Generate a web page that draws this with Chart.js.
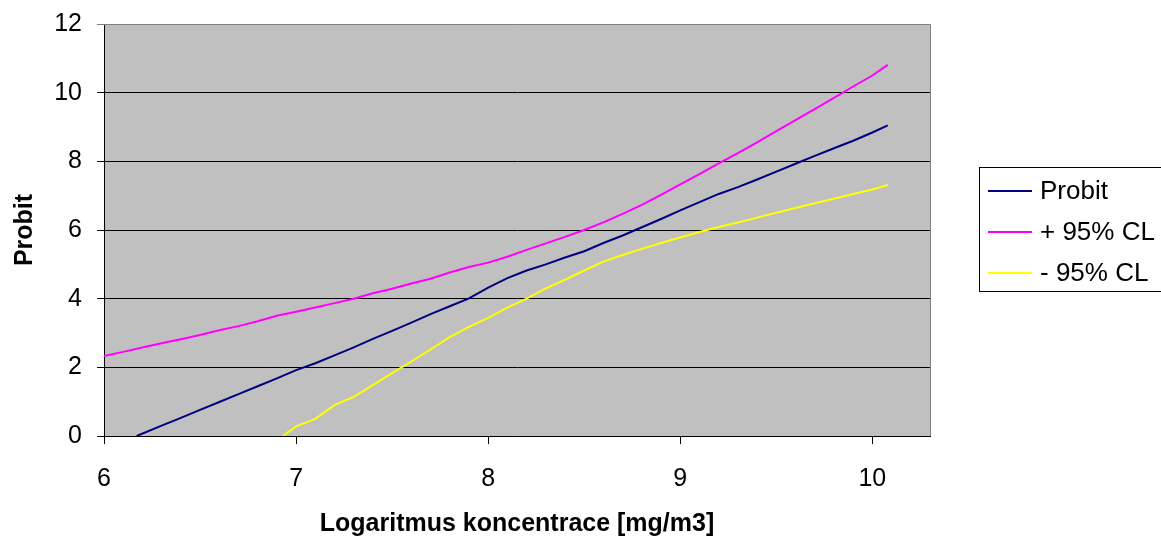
<!DOCTYPE html>
<html>
<head>
<meta charset="utf-8">
<script src="https://cdn.jsdelivr.net/npm/chart.js@4/dist/chart.umd.min.js"></script>
<style>
html,body{margin:0;padding:0;background:#fff;}
#wrap{width:1161px;height:541px;position:relative;}
</style>
</head>
<body>
<div id="wrap"><canvas id="c" width="1161" height="541"></canvas></div>
<script>
// ---- data ----
const seriesLabels = ['Probit', '+ 95% CL', '- 95% CL'];
const seriesColors = ['#000080', '#FF00FF', '#FFFF00'];

const xProbit = [6.17,6.3,6.4,6.5,6.6,6.7,6.8,6.9,7.0,7.1,7.2,7.3,7.4,7.5,7.6,7.7,7.8,7.9,8.0,8.1,8.2,8.3,8.4,8.5,8.6,8.7,8.8,8.9,9.0,9.1,9.2,9.3,9.4,9.5,9.6,9.7,9.8,9.9,10.0,10.08];
const yProbit = [0,0.30,0.53,0.76,0.99,1.22,1.45,1.68,1.92,2.12,2.35,2.58,2.83,3.06,3.30,3.55,3.78,4.01,4.32,4.60,4.82,5.00,5.20,5.38,5.62,5.84,6.08,6.32,6.57,6.81,7.05,7.25,7.47,7.70,7.93,8.16,8.38,8.60,8.84,9.05];

const xUpper = [6.0,6.1,6.2,6.3,6.4,6.5,6.6,6.7,6.8,6.9,7.0,7.1,7.2,7.3,7.4,7.5,7.6,7.7,7.8,7.9,8.0,8.1,8.2,8.3,8.4,8.5,8.6,8.7,8.8,8.9,9.0,9.1,9.2,9.3,9.4,9.5,9.6,9.7,9.8,9.9,10.0,10.08];
const yUpper = [2.33,2.45,2.58,2.70,2.82,2.94,3.08,3.20,3.34,3.50,3.62,3.74,3.87,4.00,4.16,4.29,4.44,4.58,4.76,4.92,5.05,5.22,5.42,5.61,5.80,6.00,6.22,6.47,6.73,7.02,7.33,7.63,7.94,8.24,8.55,8.88,9.20,9.52,9.85,10.18,10.50,10.81];

const xLower = [6.93,7.0,7.1,7.2,7.3,7.4,7.5,7.6,7.7,7.8,7.9,8.0,8.1,8.2,8.3,8.4,8.5,8.6,8.7,8.8,8.9,9.0,9.1,9.2,9.3,9.4,9.5,9.6,9.7,9.8,9.9,10.0,10.08];
const yLower = [0,0.28,0.50,0.90,1.14,1.48,1.83,2.17,2.52,2.88,3.18,3.44,3.74,4.00,4.30,4.55,4.82,5.08,5.27,5.45,5.62,5.78,5.94,6.09,6.22,6.36,6.50,6.64,6.78,6.91,7.05,7.18,7.31];

const xTicks = [6,7,8,9,10];
const yTicks = [0,2,4,6,8,10,12];
const xTitle = 'Logaritmus koncentrace [mg/m3]';
const yTitle = 'Probit';

// ---- build ----
function pts(xs, ys){ return xs.map((x,i)=>({x:x, y:ys[i]})); }
const FONT = 'Arial, "Liberation Sans", sans-serif';

const plotBg = {
  id:'plotBg',
  beforeDraw(chart){
    const {ctx, chartArea:a} = chart;
    ctx.save();
    ctx.fillStyle = '#C0C0C0';
    ctx.fillRect(a.left, a.top, a.right-a.left, a.bottom-a.top);
    ctx.restore();
  },
  afterDatasetsDraw(chart){
    const {ctx, chartArea:a} = chart;
    ctx.save();
    ctx.strokeStyle = '#808080';
    ctx.lineWidth = 1;
    ctx.beginPath();
    ctx.moveTo(a.left, a.top+0.5); ctx.lineTo(a.right+0.5, a.top+0.5);
    ctx.lineTo(a.right+0.5, a.bottom);
    ctx.stroke();
    ctx.restore();
  }
};

const boxLegend = {
  id:'boxLegend',
  afterDraw(chart){
    const ctx = chart.ctx;
    ctx.save();
    ctx.strokeStyle = '#000';
    ctx.lineWidth = 1;
    ctx.strokeRect(979.5, 167.5, 190, 124);
    ctx.font = '26px ' + FONT;
    ctx.textBaseline = 'middle';
    ctx.textAlign = 'left';
    const rows = [191, 232, 273];
    chart.data.datasets.forEach((ds,i)=>{
      ctx.strokeStyle = ds.borderColor;
      ctx.lineWidth = 2;
      ctx.beginPath();
      ctx.moveTo(988, rows[i]); ctx.lineTo(1032, rows[i]);
      ctx.stroke();
      ctx.fillStyle = '#000';
      ctx.fillText(ds.label, 1040, rows[i]+1);
    });
    ctx.restore();
  }
};

const ds = [pts(xProbit,yProbit), pts(xUpper,yUpper), pts(xLower,yLower)].map((d,i)=>({
  label: seriesLabels[i],
  data: d,
  borderColor: seriesColors[i],
  backgroundColor: seriesColors[i],
  borderWidth: 2,
  pointRadius: 0,
  tension: 0,
  fill: false
}));

new Chart(document.getElementById('c'), {
  type: 'line',
  data: { datasets: ds },
  options: {
    responsive: false,
    animation: false,
    layout: { padding: { top: 24, right: 231, left: 0, bottom: 0 } },
    plugins: { legend: { display: false }, tooltip: { enabled: false } },
    scales: {
      x: {
        type: 'linear',
        min: 6, max: 10.3,
        afterBuildTicks(s){ s.ticks = xTicks.map(v=>({value:v})); },
        afterFit(s){ s.height = 105; },
        border: { display: true, color: '#000', width: 1 },
        grid: { drawOnChartArea: false, drawTicks: true, tickLength: 8, color: '#000' },
        ticks: { color: '#000', font: { family: FONT, size: 25 }, padding: 20, maxRotation: 0 },
        title: { display: true, text: xTitle, color: '#000', font: { family: FONT, size: 25, weight: 'bold' }, padding: { top: 12, bottom: 2 } }
      },
      y: {
        min: 0, max: 12,
        afterBuildTicks(s){ s.ticks = yTicks.map(v=>({value:v})); },
        afterFit(s){ s.width = 104; },
        border: { display: true, color: '#000', width: 1 },
        grid: { drawTicks: true, tickLength: 7, color: (c)=> (c.tick && c.tick.value === 12) ? '#808080' : '#000', lineWidth: 1 },
        ticks: { color: '#000', font: { family: FONT, size: 25, lineHeight: 0.5 }, padding: 15 },
        title: { display: true, text: yTitle, color: '#000', font: { family: FONT, size: 25, weight: 'bold' }, padding: { top: 10, bottom: 8 } }
      }
    }
  },
  plugins: [plotBg, boxLegend]
});
</script>
</body>
</html>
